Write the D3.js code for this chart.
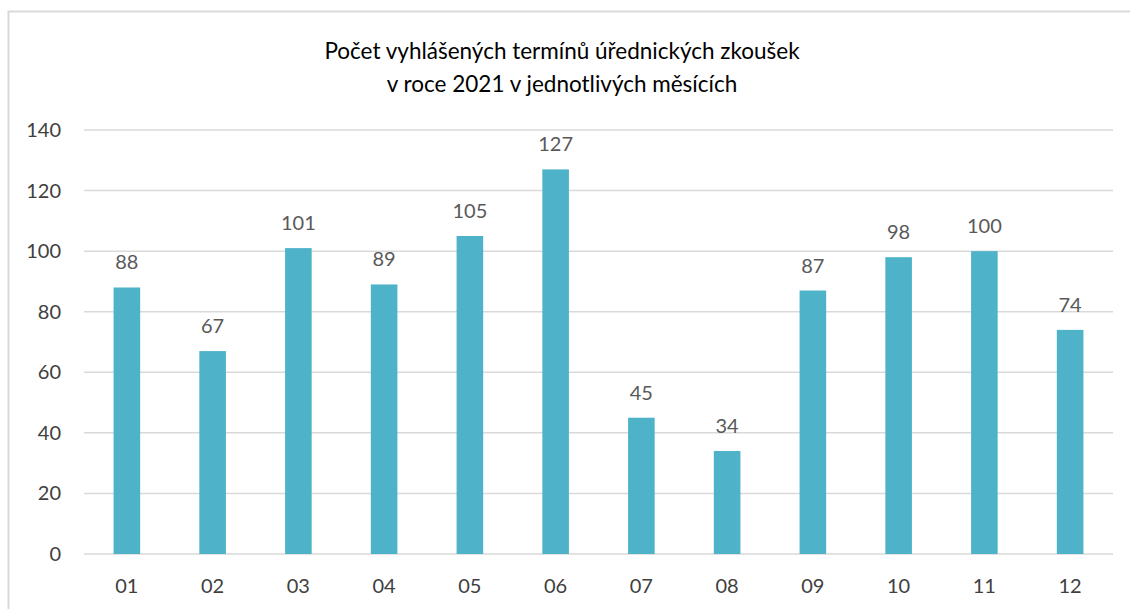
<!DOCTYPE html>
<html>
<head>
<meta charset="utf-8">
<script src="https://cdn.jsdelivr.net/npm/d3@7"></script>
<style>
  body { margin: 0; background: #fff; }
  svg text { font-family: Lato, "Open Sans", sans-serif; }
</style>
</head>
<body>
<div id="chart"></div>
<script>
// months and counts
const months = ["01","02","03","04","05","06","07","08","09","10","11","12"];
const counts = [88, 67, 101, 89, 105, 127, 45, 34, 87, 98, 100, 74];
const yTicks = [0, 20, 40, 60, 80, 100, 120, 140];
const titleLines = ["Počet vyhlášených termínů úřednických zkoušek", "v roce 2021 v jednotlivých měsících"];

const width = 1130, height = 609;
const margin = {left: 84, right: 1130 - 1113, top: 130, bottom: 609 - 554};

let svg = d3.select("#chart").append("svg")
  .attr("width", width)
  .attr("height", height);

// chart frame
svg.append("rect")
  .attr("x", 8.5).attr("y", 11.5)
  .attr("width", 1140).attr("height", 620)
  .attr("fill", "#fff")
  .attr("stroke", "#d9d9d9")
  .attr("stroke-width", 2);

let xScale = d3.scaleBand()
  .domain(months)
  .range([margin.left, width - margin.right])
  .paddingInner(0.69)
  .paddingOuter(0.345);

let yScale = d3.scaleLinear()
  .domain([0, 140])
  .range([height - margin.bottom, margin.top]);

// gridlines
svg.append("g")
  .selectAll("line")
  .data(yTicks)
  .join("line")
  .attr("x1", margin.left)
  .attr("x2", width - margin.right)
  .attr("y1", d => yScale(d))
  .attr("y2", d => yScale(d))
  .attr("stroke", "#d9d9d9")
  .attr("stroke-width", 1.5);

// y labels
svg.append("g")
  .selectAll("text")
  .data(yTicks)
  .join("text")
  .attr("x", 61)
  .attr("y", d => yScale(d))
  .attr("dy", "0.35em")
  .attr("text-anchor", "end")
  .attr("font-size", 20)
  .attr("fill", "#404040")
  .text(d => d);

// bars
svg.append("g")
  .selectAll("rect")
  .data(counts)
  .join("rect")
  .attr("x", (d, i) => xScale(months[i]))
  .attr("width", xScale.bandwidth())
  .attr("y", d => yScale(d))
  .attr("height", d => yScale(0) - yScale(d))
  .attr("fill", "#4eb3c8");

// value labels
svg.append("g")
  .selectAll("text")
  .data(counts)
  .join("text")
  .attr("x", (d, i) => xScale(months[i]) + xScale.bandwidth() / 2)
  .attr("y", d => yScale(d) - 18)
  .attr("text-anchor", "middle")
  .attr("font-size", 20)
  .attr("fill", "#595959")
  .text(d => d);

// x labels
svg.append("g")
  .selectAll("text")
  .data(months)
  .join("text")
  .attr("x", d => xScale(d) + xScale.bandwidth() / 2)
  .attr("y", 593)
  .attr("text-anchor", "middle")
  .attr("font-size", 20)
  .attr("fill", "#404040")
  .text(d => d);

// title
svg.append("g")
  .selectAll("text")
  .data(titleLines)
  .join("text")
  .attr("x", 562)
  .attr("y", (d, i) => 59 + i * 33)
  .attr("text-anchor", "middle")
  .attr("font-size", 22.5)
  .attr("fill", "#000")
  .text(d => d);
</script>
</body>
</html>
